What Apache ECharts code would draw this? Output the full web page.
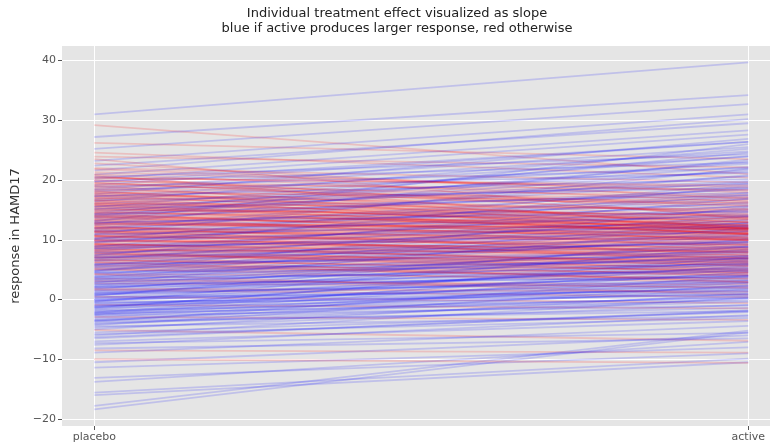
<!DOCTYPE html>
<html>
<head>
<meta charset="utf-8">
<script src="https://cdn.jsdelivr.net/npm/echarts@6/dist/echarts.min.js"></script>
<style>html,body{margin:0;padding:0;background:#fff;}#c{width:770px;height:446px;}</style>
</head>
<body>
<div id="c"></div>
<script>
const categories = ['placebo', 'active'];
const yTicks = [-20, -10, 0, 10, 20, 30, 40];
const placebo = [
31.0,29.2,27.2,26.2,25.2,24.6,23.9,23.2,22.8,22.4,22.0,21.6,21.3,20.9,20.6,20.2,19.9,19.7,19.5,19.2,
19.0,18.8,18.5,18.2,18.0,17.8,17.5,17.2,17.0,16.8,16.5,16.3,16.0,15.8,15.5,15.3,15.0,14.8,14.6,14.3,
14.1,13.9,13.6,13.4,13.1,12.9,12.7,12.4,12.2,12.0,11.8,11.5,11.3,11.1,10.8,10.6,10.4,10.1,9.9,9.6,
9.4,9.2,9.0,8.7,8.5,8.3,8.0,7.8,7.6,7.3,7.1,6.9,6.6,6.4,6.1,5.9,5.6,5.4,5.1,4.9,
4.6,4.3,4.1,3.8,3.5,3.3,3.0,2.7,2.5,2.2,1.9,1.6,1.4,1.1,0.8,0.5,0.3,0.0,-0.3,-0.6,
-0.9,-1.1,-1.4,-1.7,-2.0,-2.3,-2.6,-2.9,-3.2,-3.5,-3.9,-4.3,-4.7,-5.1,-5.5,-6.0,-6.5,-7.0,-7.6,-8.5,
-8.9,-10.5,-11.4,-13.1,-13.8,-15.6,-16.0,-17.8,-18.4,
21.8,20.4,20.0,19.8,19.3,18.6,18.3,17.9,17.3,16.9,16.6,16.2,15.9,15.6,15.2,14.9,14.5,14.2,14.0,13.7,
13.3,13.0,12.8,12.5,12.3,12.1,11.9,11.6,11.4,11.2,10.9,10.7,10.5,10.2,10.0,9.8,9.5,9.3,9.1,8.9,
8.6,8.4,8.2,7.9,7.7,7.5,7.2,7.0,6.8,6.5,6.3,6.0,5.8,5.5,5.2,5.0,4.7,4.4,4.2,3.9,
3.6,3.4,3.1,2.9,2.6,2.3,2.0,1.8,1.5,1.2,1.0,0.7,0.4,0.1,-0.2,-0.5,-0.8,-1.2,-1.5,-1.8,
-2.1,-2.4,-2.7,-3.0,-3.4,-3.7,-4.1,-4.5,-5.0,-5.8,-6.3,-7.3,-8.2,-10.0,
17.6,16.4,15.1,14.4,13.8,13.2,12.6,11.7,11.0,10.3,9.7,8.8,8.1,7.4,6.7,5.7,4.8,3.7,2.8,1.7,
0.6,-0.4,-1.3,-2.2,
18.1,17.1,16.7,16.0,15.4,14.7,14.0,13.5,12.8,12.0,11.3,10.8,10.2,9.6,9.0,8.4,7.8,7.0,6.2,5.3,
23.5,20.8,
21.0,20.3,19.6,19.1,18.4,17.7,17.4,16.6,16.1,15.7,15.1,14.4,13.8,13.2,12.6,11.9,11.4,10.6,9.9,9.3,
8.8,8.1,7.4,6.6,
20.5,18.9,17.3,15.6,14.2,12.9,11.5,10.0,8.6,7.1,5.8,4.5,3.2,2.1,0.9,-0.1,-1.0,-2.5,-3.6
];
const active = [
39.7,21.0,34.2,23.5,32.7,20.4,22.1,31.0,16.8,29.5,19.6,30.2,18.2,28.3,13.9,27.6,17.5,26.4,15.2,26.4,
12.4,16.1,25.5,11.8,24.8,14.6,12.1,23.9,16.2,22.7,11.5,13.0,21.4,12.3,24.0,10.9,14.2,19.8,11.6,20.6,
12.5,8.7,18.4,11.9,26.0,10.2,12.0,17.1,9.4,15.6,11.2,7.8,16.8,10.3,14.9,6.9,9.8,19.3,8.1,13.2,
5.6,8.8,12.7,6.2,15.1,7.9,4.6,11.9,6.8,10.4,3.9,13.8,5.9,9.7,4.2,11.0,5.1,8.6,2.8,10.2,
7.7,3.6,12.5,6.9,1.9,8.3,5.8,2.1,9.1,5.2,7.4,0.4,4.8,6.3,3.9,-0.6,5.5,2.7,4.4,1.8,
-1.5,3.6,0.9,5.0,2.2,-0.2,3.1,-3.4,0.6,1.7,-1.4,2.4,-0.9,-6.9,-2.1,0.3,-1.8,-3.6,-2.6,-8.9,
-4.4,-6.0,-8.0,-9.0,-7.1,-9.9,-10.5,-5.2,-5.5,
17.9,18.8,15.6,22.9,18.4,13.7,21.2,17.0,12.9,14.9,18.7,11.9,14.0,12.6,17.4,11.2,13.4,10.4,23.1,12.2,
10.8,11.6,16.0,11.9,7.4,11.0,20.8,9.9,11.0,6.4,12.8,9.2,10.1,14.2,7.3,9.5,17.5,6.9,8.2,10.6,
4.9,12.2,7.0,9.3,5.2,14.6,6.7,8.8,2.9,11.7,5.5,7.3,3.4,9.9,6.4,4.1,12.9,5.9,0.8,8.8,
4.7,10.8,2.5,6.1,3.7,8.0,4.0,1.3,6.8,2.9,5.3,8.4,1.5,4.1,6.0,0.8,3.2,2.0,7.1,0.2,
1.2,4.6,-1.0,2.8,-0.4,3.9,0.1,-2.8,1.0,-3.1,-2.0,-5.6,-6.5,-10.6,
26.9,25.2,22.2,24.6,21.7,19.6,23.4,18.6,21.9,17.8,16.3,19.0,15.7,16.9,14.0,13.4,15.4,11.4,12.0,9.6,
10.1,8.9,6.6,5.7,
12.9,11.4,12.2,10.9,11.8,12.0,11.1,12.4,11.7,10.6,8.4,10.0,7.8,8.4,6.0,7.5,4.4,6.2,3.0,4.5,
13.5,11.8,
16.4,19.1,14.3,17.2,15.8,13.3,16.6,13.8,15.1,11.0,13.6,9.9,12.9,10.0,11.3,9.1,10.4,8.6,9.1,7.1,
8.0,5.7,6.5,4.8,
24.3,22.0,20.1,19.4,17.9,14.7,13.9,12.3,11.4,9.6,8.0,6.9,7.2,5.0,3.3,2.3,1.4,0.4,-1.9
];

const series = placebo.map((p, i) => ({
  type: 'line',
  data: [[0, p], [1, active[i]]],
  symbol: 'none',
  silent: true,
  animation: false,
  lineStyle: { color: active[i] > p ? '#0000ff' : '#ff0000', width: 1.8, opacity: 0.16 }
}));

const chart = echarts.init(document.getElementById('c'), null, { renderer: 'canvas' });
chart.setOption({
  animation: false,
  backgroundColor: '#ffffff',
  graphic: [{
    type: 'text', x: 397, y: 6, z: 10,
    style: {
      text: 'Individual treatment effect visualized as slope\nblue if active produces larger response, red otherwise',
      textAlign: 'center', textVerticalAlign: 'top',
      font: '13px "DejaVu Sans"', fill: '#222', lineHeight: 15
    }
  }],
  grid: { left: 62, top: 46, right: 0, height: 380, show: true, backgroundColor: '#E5E5E5', borderWidth: 0, containLabel: false },
  xAxis: {
    type: 'value', min: -0.0494, max: 1.0332,
    axisLine: { show: false, onZero: false },
    axisTick: { show: true, customValues: [0, 1], length: 4, lineStyle: { color: '#555', width: 1 } },
    axisLabel: { customValues: [0, 1], formatter: v => categories[Math.round(v)], color: '#555', fontSize: 11, fontFamily: 'DejaVu Sans', margin: 6 },
    splitLine: { show: true, lineStyle: { color: '#ffffff', width: 1 } }
  },
  yAxis: {
    type: 'value', min: -21.17, max: 42.43,
    name: 'response in HAMD17', nameLocation: 'middle', nameGap: 34,
    nameTextStyle: { fontSize: 13, color: '#333', fontFamily: 'DejaVu Sans' },
    axisLine: { show: false, onZero: false },
    axisTick: { show: true, customValues: yTicks, length: 4, lineStyle: { color: '#555', width: 1 } },
    axisLabel: { customValues: yTicks, color: '#555', fontSize: 11, fontFamily: 'DejaVu Sans', margin: 6,
      formatter: v => (v < 0 ? '\u2212' + Math.abs(v) : String(v)) },
    splitLine: { show: true, lineStyle: { color: '#ffffff', width: 1 } }
  },
  series: series
});
</script>
</body>
</html>
